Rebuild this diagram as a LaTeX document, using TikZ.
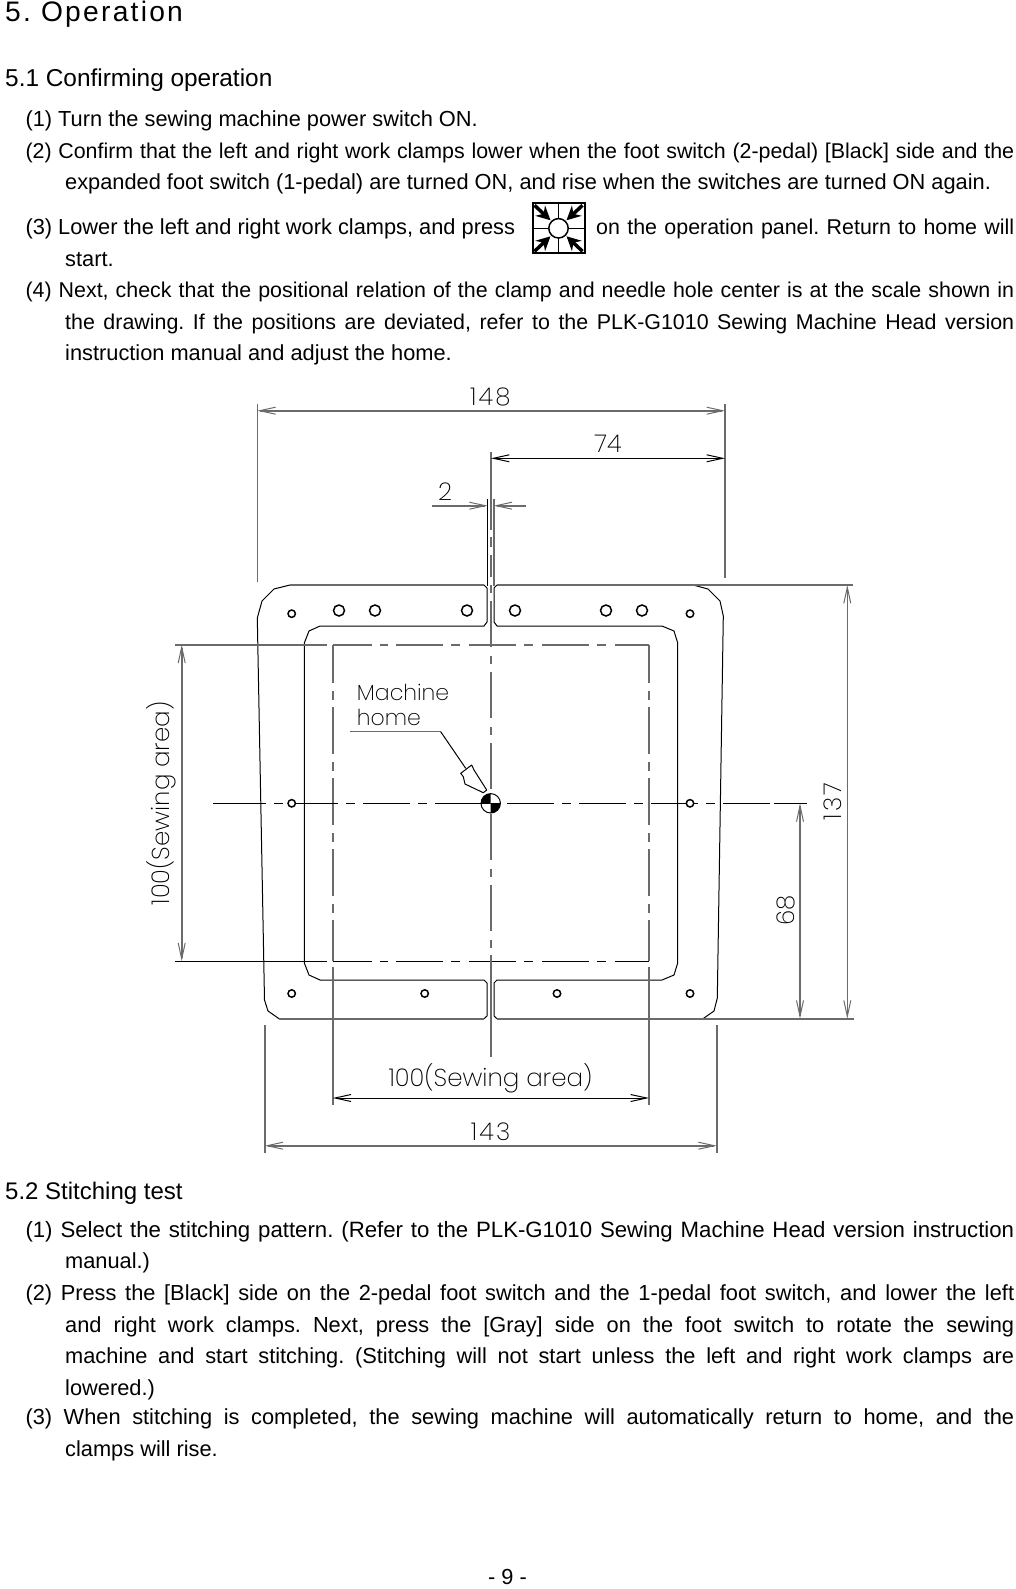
\documentclass[tikz,border=0pt]{standalone}
\usepackage{fontspec}
\usetikzlibrary{arrows.meta}
\setmainfont{Liberation Sans}
\newfontfamily\cadfont{Poppins ExtraLight}
\newfontfamily\cadnum[LetterSpace=9]{Poppins ExtraLight}
\newfontfamily\titlefont[LetterSpace=8]{Liberation Sans}
\definecolor{lgrey}{gray}{0.42}
\newcommand{\jl}[2]{\makebox[#1pt][s]{#2}}
\frenchspacing
\tikzset{
 tl/.style={anchor=base west,inner sep=0pt,font=\fontsize{21.8}{21.8}\selectfont},
 tn/.style={tl,font=\fontsize{21.4}{21.4}\selectfont},
 hd/.style={anchor=base west,inner sep=0pt,font=\fontsize{24.4}{24.4}\selectfont},
 cad/.style={anchor=base,inner sep=0pt,text=black,font=\cadfont\fontsize{24.5}{24.5}\selectfont},
 cadn/.style={cad,font=\cadnum\fontsize{24.5}{24.5}\selectfont},
 gl/.style={draw=lgrey,line width=1.6pt},
 bl/.style={draw=black,line width=1pt},
 dd/.style={dash pattern=on 46.5pt off 8.5pt on 8.5pt off 9.5pt},
 dv/.style={dash pattern=on 46.5pt off 8.5pt on 8.5pt off 7.5pt},
 dh/.style={dash pattern=on 46.5pt off 8.5pt on 8.5pt off 8.5pt},
 barb/.tip={Straight Barb[length=16pt,width=7pt,line width=1pt]},
 hole/.style={draw=black,line width=1.5pt,fill=white},
}
\begin{document}
\begin{tikzpicture}[x=1pt,y=-1pt]
\useasboundingbox (0,0) rectangle (1015,1589);
\fill[white] (0,0) rectangle (1015,1589);
% texts
\node[anchor=base west,inner sep=0pt,font=\titlefont\fontsize{28.2}{28.2}\selectfont] (t0) at (5,22) {5. Operation};
\node[hd] (t1) at (5,87) {5.1 Confirming operation};
\node[tl] (a1) at (25.3,126.5) {(1) Turn the sewing machine power switch ON.};
\node[tn] (a2) at (25.3,158.5) {\jl{988.7}{(2) Confirm that the left and right work clamps lower when the foot switch (2-pedal) [Black] side and the}};
\node[tl] (a3) at (65,189.5) {expanded foot switch (1-pedal) are turned ON, and rise when the switches are turned ON again.};
\node[tl] (a4) at (25.3,235) {(3) Lower the left and right work clamps, and press};
\node[tn] (a5) at (596,235) {\jl{418}{on the operation panel. Return to home will}};
\node[tl] (a6) at (65,266) {start.};
\node[tn] (a7) at (25.3,298) {\jl{988.7}{(4) Next, check that the positional relation of the clamp and needle hole center is at the scale shown in}};
\node[tn] (a8) at (65,329) {\jl{949}{the drawing. If the positions are deviated, refer to the PLK-G1010 Sewing Machine Head version}};
\node[tl] (a9) at (65,360) {instruction manual and adjust the home.};
\node[hd,font=\fontsize{24}{24}\selectfont] (t2) at (5,1199.5) {5.2 Stitching test};
\node[tl,font=\fontsize{22.2}{22.2}\selectfont] (b1) at (25.3,1237) {\jl{988.7}{(1) Select the stitching pattern. (Refer to the PLK-G1010 Sewing Machine Head version instruction}};
\node[tl] (b2) at (65,1268) {manual.)};
\node[tl] (b3) at (25.3,1300) {\jl{988.7}{(2) Press the [Black] side on the 2-pedal foot switch and the 1-pedal foot switch, and lower the left}};
\node[tl] (b4) at (65,1332) {\jl{949}{and right work clamps. Next, press the [Gray] side on the foot switch to rotate the sewing}};
\node[tl] (b5) at (65,1363.5) {\jl{949}{machine and start stitching. (Stitching will not start unless the left and right work clamps are}};
\node[tl] (b6) at (65,1395) {lowered.)};
\node[tl] (b7) at (25.3,1424.5) {\jl{988.7}{(3) When stitching is completed, the sewing machine will automatically return to home, and the}};
\node[tl] (b8) at (65,1456.5) {clamps will rise.};
\node[tl,anchor=base] (pg) at (507.5,1584) {- 9 -};
% icon
\draw[black,line width=2.8pt] (533,203) rectangle (585,253);
\draw[black,line width=1.2pt] (558.5,203) -- (558.5,253) (533,228.3) -- (585,228.3);
\foreach \sx/\sy in {-1/-1,1/-1,-1/1,1/1}{
 \draw[black,line width=3.5pt,-{Stealth[length=14pt,width=14pt]}] (558.5+\sx*24,228.3+\sy*23) -- (558.5+\sx*8,228.3+\sy*8);
}
\draw[black,line width=1.5pt,fill=white] (558.5,228.3) circle (9.7);
% plates
\draw[bl] (487,588) -- (484,585) -- (290,585) -- (274,589) -- (262,601) -- (257.3,618) -- (264.5,1000) -- (268,1011) -- (279,1018.7) -- (484,1018.7) -- (487,1016) -- (487,983) -- (484,980) -- (320,980) -- (309,975) -- (304.3,963) -- (304.3,643) -- (309,631) -- (320,626) -- (484,626) -- (487,622) -- cycle;
\draw[bl] (494,588) -- (497,585) -- (693,585) -- (708,589) -- (720,601) -- (723.3,616) -- (717.3,998) -- (714,1011) -- (703,1018.7) -- (497,1018.7) -- (494,1016) -- (494,983) -- (497,980) -- (662,980) -- (674,975) -- (677.7,963) -- (677.7,643) -- (674,631) -- (662,626) -- (497,626) -- (494,622) -- cycle;
\draw[gl] (290,585) -- (484,585) (497,585) -- (853,585);
\draw[gl] (279,1018.7) -- (484,1018.7) (497,1018.7) -- (854,1018.7);
% centre lines and sewing rectangle
\draw[gl] (175,644.7) -- (327,644.7) (332.7,644.7) -- (372,644.7);
\draw[gl,dd] (396,644.7) -- (649,644.7);
\draw[gl] (380,644.7) -- (388,644.7);
\draw[bl] (175,961.3) -- (327,961.3) (332.7,961.3) -- (372,961.3);
\draw[bl,dd] (396,961.3) -- (649,961.3);
\draw[bl] (380,961.3) -- (388,961.3);
\draw[gl,dv,dash phase=8.4pt] (332.7,644.7) -- (332.7,961.3);
\draw[gl] (332.7,967) -- (332.7,1105);
\draw[gl,dv,dash phase=8.4pt] (649,644.7) -- (649,961.3);
\draw[gl] (649,967) -- (649,1105);
\draw[gl] (490.8,452) -- (490.8,530) (490.8,537) -- (490.8,547) (490.8,555) -- (490.8,577) (490.8,585) -- (490.8,593);
\draw[gl,dv] (490.8,600.7) -- (490.8,950);
\draw[gl] (490.8,955) -- (490.8,1056.7);
\draw[bl] (213,803.3) -- (219,803.3);
\draw[bl,dh] (219,803.3) -- (770,803.3);
\draw[bl] (774,803.3) -- (806.7,803.3);
\foreach \x/\y/\r in {291.7/613.7/3.7,339/610.5/5.5,375/610.5/5.5,467/610.5/5.5,515/610.5/5.5,606/610.5/5.5,642/610.5/5.5,690/613.7/3.7,291.7/993.5/3.7,424.7/993.5/3.7,557/993.5/3.7,690/993.5/3.7,291.7/803.3/3.7,690/803.3/3.7}{
 \draw[hole] (\x,\y) circle (\r);
}
% target
\fill[white] (490.7,803.3) circle (9.7);
\begin{scope}
\clip (481,793.6) rectangle (490.7,803.3);
\fill[black] (490.7,803.3) circle (9.7);
\end{scope}
\begin{scope}
\clip (490.7,803.3) rectangle (500.4,813);
\fill[black] (490.7,803.3) circle (9.7);
\end{scope}
\draw[black,line width=1pt] (490.7,803.3) circle (9.7);
% machine home leader
\node[cad,anchor=base west,font=\cadfont\fontsize{22}{22}\selectfont] (mh1) at (356.7,700.7) {Machine};
\node[cad,anchor=base west,font=\cadfont\fontsize{22}{22}\selectfont] (mh2) at (356.7,725) {home};
\draw[gl,line width=1.4pt] (350,731.7) -- (440.7,731.7);
\draw[bl] (440.7,731.7) -- (465.7,768.3);
\draw[bl,fill=white,line join=round] (460.7,773.3) -- (471.7,765) -- (474,770) -- (486.7,790) -- (483.3,792.7) -- (465,784) -- (463.3,776.7) -- cycle;
% extension lines
\draw[gl] (257.3,404) -- (257.3,582);
\draw[gl] (725,404) -- (725,578);
\draw[gl] (264.7,1025) -- (264.7,1152.7);
\draw[gl] (716.7,1025) -- (716.7,1152.7);
\draw[bl] (487.7,499) -- (487.7,586);
\draw[gl] (493.7,499) -- (493.7,586);
% dimensions
\draw[gl,{barb}-{barb}] (257.3,410.7) -- (725,410.7);
\draw[bl,{barb}-{barb}] (491,458.3) -- (725,458.3);
\draw[gl,-{barb}] (432,505.7) -- (487.7,505.7);
\draw[gl,-{barb}] (526,505.7) -- (493.7,505.7);
\draw[gl,{barb}-{barb}] (847.3,585) -- (847.3,1018.7);
\draw[gl,{barb}-{barb}] (800,803.3) -- (800,1018.7);
\draw[gl,{barb}-{barb}] (181.7,644.7) -- (181.7,961.3);
\draw[bl,{barb}-{barb}] (332.7,1098) -- (649,1098);
\draw[gl,{barb}-{barb}] (264.7,1145.7) -- (716.7,1145.7);
% dimension labels
\node[cadn] (d148) at (490.3,405.7) {148};
\node[cad] (d74) at (608,452.7) {74};
\node[cad] (d2) at (445,500.7) {2};
\node[cadn,rotate=90] (d137) at (841.7,801.7) {137};
\node[cad,rotate=90] (d68) at (794,910.5) {68};
\node[cad,rotate=90] (d100a) at (169.3,803.3) {100(Sewing area)};
\node[cad] (d100b) at (490.5,1086.7) {100(Sewing area)};
\node[cadn] (d143) at (490.5,1140) {143};
\end{tikzpicture}
\end{document}
